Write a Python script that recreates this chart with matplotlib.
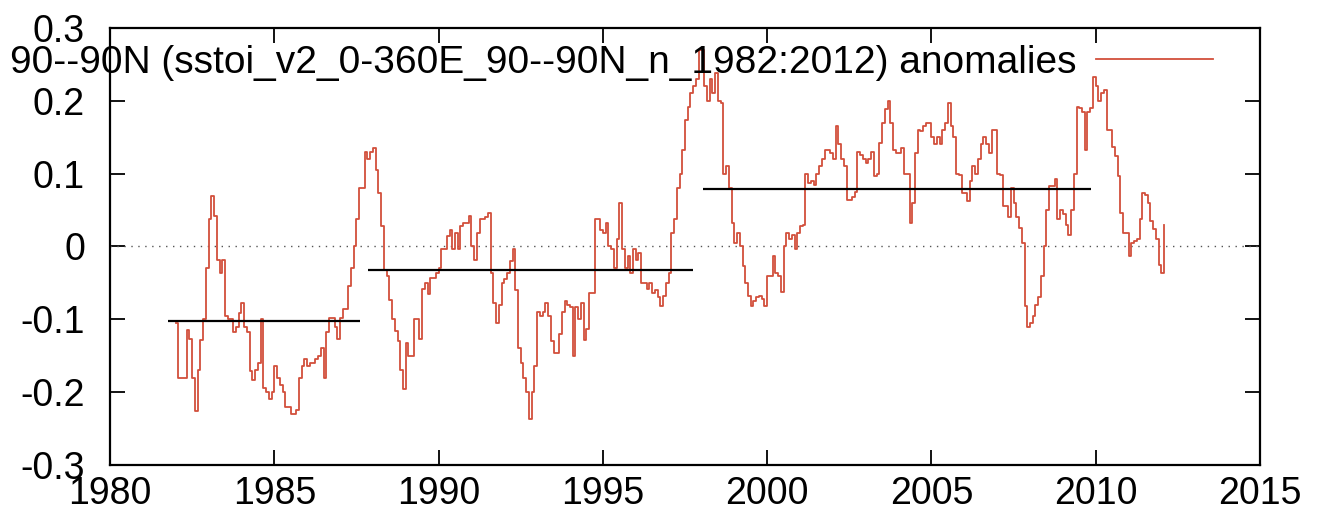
"""SST anomalies (sstoi v2, 90S-90N), monthly, with period means."""

import matplotlib

matplotlib.use("Agg")
import matplotlib.pyplot as plt

plt.rcParams["font.family"] = ["Liberation Sans", "DejaVu Sans"]

# monthly anomalies, Jan 1982 onwards
anom_1982_1989 = [
    -0.105, -0.18, -0.18, -0.18, -0.115, -0.127, -0.18, -0.226, -0.17, -0.128, -0.10, -0.03,
    0.037, 0.069, 0.042, -0.018, -0.036, -0.018, -0.095, -0.10, -0.10, -0.118, -0.11, -0.091,
    -0.077, -0.11, -0.118, -0.171, -0.184, -0.17, -0.16, -0.10, -0.194, -0.20, -0.21, -0.20,
    -0.164, -0.18, -0.19, -0.20, -0.22, -0.22, -0.23, -0.23, -0.225, -0.18, -0.164, -0.155,
    -0.164, -0.16, -0.16, -0.155, -0.15, -0.139, -0.18, -0.117, -0.098, -0.098, -0.11, -0.127,
    -0.098, -0.086, -0.086, -0.054, -0.03, 0.0, 0.037, 0.08, 0.08, 0.13, 0.12, 0.13,
    0.135, 0.105, 0.074, 0.028, -0.032, -0.04, -0.073, -0.10, -0.116, -0.13, -0.17, -0.196,
    -0.132, -0.15, -0.15, -0.10, -0.10, -0.127, -0.059, -0.05, -0.065, -0.043, -0.043, -0.036,
]
anom_1990_1997 = [
    -0.03, -0.004, -0.004, 0.014, 0.023, -0.004, 0.018, -0.004, 0.028, 0.032, 0.032, 0.042,
    0.0, -0.018, 0.018, 0.037, 0.037, 0.04, 0.046, -0.036, -0.077, -0.105, -0.08, -0.05,
    -0.045, -0.036, -0.02, -0.004, -0.06, -0.14, -0.16, -0.18, -0.20, -0.237, -0.2, -0.164,
    -0.09, -0.095, -0.09, -0.077, -0.095, -0.13, -0.146, -0.146, -0.12, -0.09, -0.075, -0.08,
    -0.083, -0.15, -0.083, -0.10, -0.077, -0.128, -0.114, -0.064, -0.064, 0.037, 0.037, 0.023,
    0.018, 0.032, 0.0, -0.004, -0.03, 0.01, 0.06, -0.004, -0.03, -0.013, -0.036, -0.004,
    -0.018, -0.009, -0.05, -0.05, -0.059, -0.05, -0.064, -0.06, -0.07, -0.082, -0.068, -0.05,
    -0.036, 0.019, 0.037, 0.08, 0.10, 0.133, 0.174, 0.192, 0.21, 0.22, 0.23, 0.27,
]
anom_1998_2005 = [
    0.27, 0.22, 0.20, 0.23, 0.21, 0.238, 0.20, 0.197, 0.10, 0.11, 0.08, 0.032,
    0.005, 0.018, 0.0, -0.027, -0.05, -0.068, -0.082, -0.075, -0.07, -0.068, -0.072, -0.082,
    -0.04, -0.04, -0.013, -0.036, -0.04, -0.063, 0.0, 0.018, 0.01, 0.016, -0.004, 0.018,
    0.028, 0.03, 0.10, 0.087, 0.09, 0.085, 0.10, 0.11, 0.12, 0.133, 0.133, 0.128,
    0.12, 0.165, 0.14, 0.12, 0.11, 0.064, 0.064, 0.068, 0.075, 0.13, 0.125, 0.12,
    0.115, 0.12, 0.13, 0.096, 0.10, 0.142, 0.17, 0.188, 0.20, 0.17, 0.133, 0.128,
    0.128, 0.135, 0.10, 0.10, 0.032, 0.06, 0.128, 0.16, 0.158, 0.165, 0.17, 0.17,
    0.15, 0.14, 0.15, 0.14, 0.16, 0.17, 0.197, 0.165, 0.15, 0.10, 0.098, 0.074,
]
anom_2006_2012 = [
    0.074, 0.062, 0.09, 0.11, 0.10, 0.12, 0.14, 0.15, 0.14, 0.128, 0.16, 0.16,
    0.10, 0.098, 0.055, 0.055, 0.04, 0.08, 0.06, 0.04, 0.025, 0.005, -0.082, -0.11,
    -0.105, -0.095, -0.08, -0.07, -0.04, 0.0, 0.05, 0.083, 0.083, 0.092, 0.037, 0.05,
    0.045, 0.03, 0.016, 0.05, 0.10, 0.192, 0.19, 0.185, 0.133, 0.185, 0.19, 0.233,
    0.22, 0.20, 0.21, 0.215, 0.16, 0.16, 0.137, 0.124, 0.096, 0.046, 0.019, 0.019,
    -0.013, 0.005, 0.007, 0.01, 0.037, 0.074, 0.07, 0.06, 0.035, 0.024, 0.01, -0.025,
    -0.036, 0.03,
]
anom = anom_1982_1989 + anom_1990_1997 + anom_1998_2005 + anom_2006_2012
start_year = 1982

# period means (start, end, level)
mean_starts = [1981.75, 1987.85, 1998.05]
mean_ends = [1987.6, 1997.75, 2009.85]
mean_levels = [-0.103, -0.033, 0.079]

xticks = [1980, 1985, 1990, 1995, 2000, 2005, 2010, 2015]
yticks = [-0.3, -0.2, -0.1, 0.0, 0.1, 0.2, 0.3]
ytick_labels = ["-0.3", "-0.2", "-0.1", "0", "0.1", "0.2", "0.3"]
label = "90--90N (sstoi_v2_0-360E_90--90N_n_1982:2012) anomalies"

years = [start_year + i / 12 for i in range(len(anom))]

fig = plt.figure(figsize=(13.21, 5.26), dpi=100)
ax = fig.add_axes([0.0833, 0.116, 0.8705, 0.831])

ax.axhline(0, color="#555555", linestyle=(0, (1, 4)), linewidth=1.0)
ax.step(years, anom, where="post", color="#d24f3c", linewidth=1.3, label=label)
ax.hlines(mean_levels, mean_starts, mean_ends, color="black", linewidth=1.6)

ax.set_xlim(1980, 2015)
ax.set_ylim(-0.3, 0.3)
ax.set_xticks(xticks)
ax.set_yticks(yticks)
ax.set_yticklabels(ytick_labels)
ax.tick_params(direction="in", length=11, width=1.3, top=True, right=True,
               labelsize=27)
ax.tick_params(axis="x", pad=8)
ax.tick_params(axis="y", pad=18)
for s in ax.spines.values():
    s.set_linewidth(1.6)

ax.legend(loc="center right", bbox_to_anchor=(0.959, 0.92), frameon=False,
          markerfirst=False, handlelength=3.0, handletextpad=0.5,
          borderpad=0, borderaxespad=0, fontsize=28)

fig.savefig("out.png", dpi=100)
